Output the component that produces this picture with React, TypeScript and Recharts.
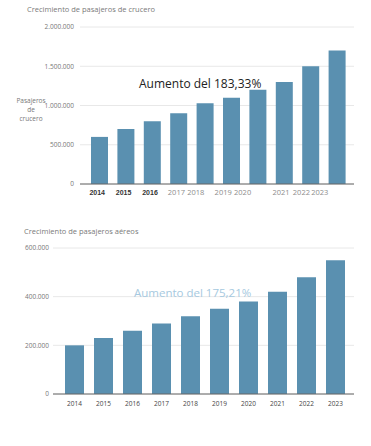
import React from "react";
import { BarChart, Bar, XAxis, YAxis, CartesianGrid } from "recharts";

const YEARS = ["2014", "2015", "2016", "2017", "2018", "2019", "2020", "2021", "2022", "2023"];
const CRUISE = [600000, 700000, 800000, 900000, 1030000, 1100000, 1200000, 1300000, 1500000, 1700000];
const AIR = [200000, 230000, 260000, 290000, 320000, 350000, 380000, 420000, 480000, 550000];
const CRUISE_TICKS = [0, 500000, 1000000, 1500000, 2000000];
const AIR_TICKS = [0, 200000, 400000, 600000];

const cruiseData = YEARS.map((year, i) => ({ year, value: CRUISE[i] }));
const airData = YEARS.map((year, i) => ({ year, value: AIR[i] }));

const BAR = "#5a90b0";
const FONT = "'Open Sans', sans-serif";

const fmt = (n: number) => n.toString().replace(/\B(?=(\d{3})+(?!\d))/g, ".");

// the labels after 2016 sit off-centre in the original
const SHIFT = [0, 0, 0, -2, -9, -8, -15, -3, -9, -17];

function CruiseTick({ x, y, payload, index }: any) {
  if (index < 3) {
    return (
      <text x={x - 2} y={y + 11} textAnchor="middle" fontSize={7} fontWeight="bold" fill="#333" fontFamily="Arial, sans-serif">
        {payload.value}
      </text>
    );
  }
  return (
    <text x={x + SHIFT[index]} y={y + 11} textAnchor="middle" fontSize={7.5} fill="#8c8c8c" fontFamily={FONT}>
      {payload.value}
    </text>
  );
}

const abs = (left: number, top: number): React.CSSProperties => ({
  position: "absolute",
  left,
  top,
  fontFamily: FONT,
  whiteSpace: "nowrap",
});

export default function App() {
  return (
    <div style={{ position: "absolute", left: 0, top: 0, width: 371, height: 446, background: "#fff" }}>
      <div style={{ ...abs(27, 4), fontSize: 7.5, color: "#7a7a7a" }}>Crecimiento de pasajeros de crucero</div>
      <div style={{ position: "absolute", left: 0, top: 0 }}>
        <BarChart width={371} height={200} data={cruiseData} margin={{ top: 27, right: 17, bottom: 2, left: 0 }}>
          <CartesianGrid vertical={false} stroke="#e8e8e8" />
          <XAxis
            dataKey="year"
            height={14}
            tickLine={false}
            tickSize={0}
            tickMargin={0}
            axisLine={{ stroke: "#666" }}
            padding={{ left: 6, right: 4 }}
            tick={<CruiseTick />}
            interval={0}
          />
          <YAxis
            width={80}
            domain={[0, 2000000]}
            ticks={CRUISE_TICKS}
            tickFormatter={fmt}
            axisLine={false}
            tickLine={false}
            tickSize={0}
            tickMargin={6}
            tick={{ fontSize: 6.5, fill: "#777", fontFamily: FONT }}
          />
          <Bar dataKey="value" fill={BAR} barSize={17} isAnimationActive={false} />
        </BarChart>
      </div>
      <div style={{ ...abs(16, 96), fontSize: 6.5, color: "#777", textAlign: "center", lineHeight: "9px", width: 30 }}>
        Pasajeros
        <br />
        de
        <br />
        crucero
      </div>
      <div style={{ ...abs(139, 75), fontSize: 12, color: "#222" }}>Aumento del 183,33%</div>

      <div style={{ ...abs(24, 226), fontSize: 7.5, color: "#7a7a7a" }}>Crecimiento de pasajeros aéreos</div>
      <div style={{ position: "absolute", left: 0, top: 220 }}>
        <BarChart width={371} height={200} data={airData} margin={{ top: 28, right: 17, bottom: 6, left: 0 }}>
          <CartesianGrid vertical={false} stroke="#e8e8e8" />
          <XAxis
            dataKey="year"
            height={20}
            tickLine={false}
            tickSize={0}
            tickMargin={7}
            axisLine={{ stroke: "#666" }}
            padding={{ left: 7, right: 4 }}
            tick={{ fontSize: 6.5, fill: "#444", fontFamily: FONT }}
            interval={0}
          />
          <YAxis
            width={53}
            domain={[0, 600000]}
            ticks={AIR_TICKS}
            tickFormatter={fmt}
            axisLine={false}
            tickLine={false}
            tickSize={0}
            tickMargin={4}
            tick={{ fontSize: 6.5, fill: "#777", fontFamily: FONT }}
          />
          <Bar dataKey="value" fill={BAR} barSize={19} isAnimationActive={false} />
        </BarChart>
      </div>
      <div style={{ ...abs(134, 285), fontSize: 11.5, color: "#a6c9e0" }}>Aumento del 175,21%</div>
    </div>
  );
}
